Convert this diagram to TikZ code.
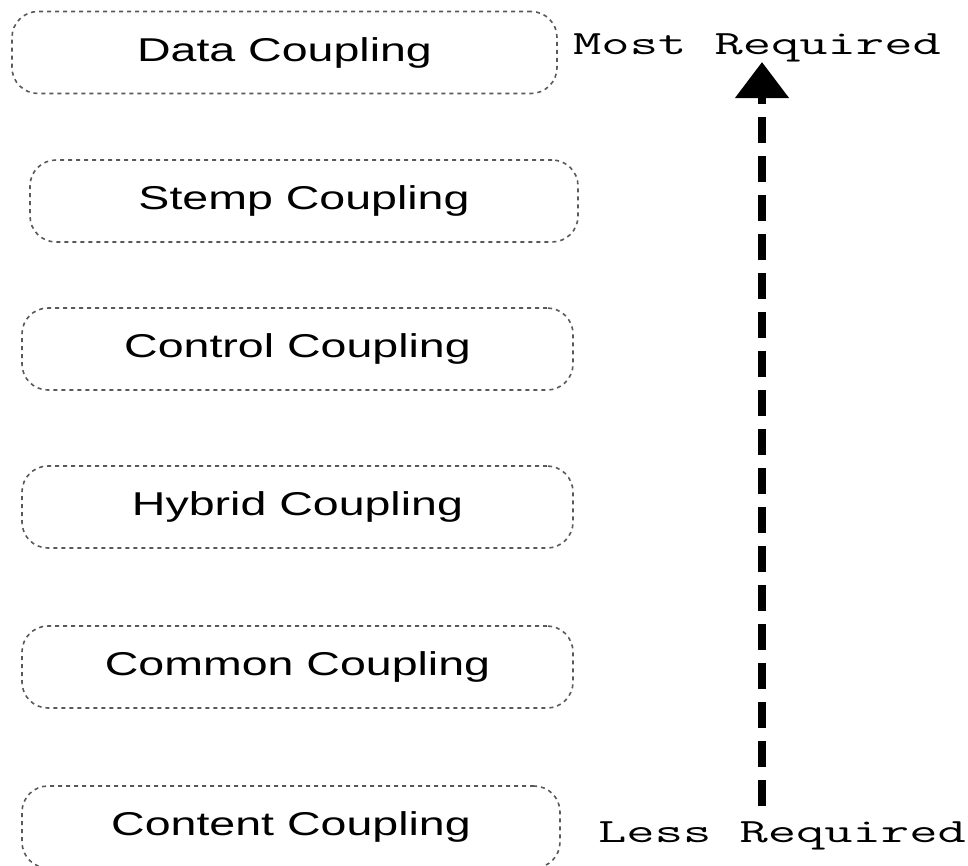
\documentclass[tikz,border=0pt]{standalone}
\usepackage{fontspec}
\usepackage{graphicx}
\setmainfont{Liberation Sans}
\usetikzlibrary{arrows.meta}
% wide-set label text
\newcommand{\widetext}[1]{\scalebox{1.41}[1]{#1}}
\newcommand{\widemono}[1]{\scalebox{1.615}[1]{\ttfamily #1}}
\begin{document}
\begin{tikzpicture}[x=1pt,y=-1pt,
  couplingbox/.style={draw=black!65, line width=1.6pt, dash pattern=on 4pt off 4pt,
    rounded corners=26pt, inner sep=0pt, minimum height=82pt,
    font=\fontsize{33}{38}\selectfont},
  levellabel/.style={anchor=base west, inner sep=0pt, font=\fontsize{34}{38}\selectfont},
  scalearrow/.style={line width=8pt, dash pattern=on 26pt off 13pt,
    -{Triangle[width=52pt,length=36pt]}}]
\useasboundingbox (0,0) rectangle (968,865);

% coupling kinds, from most to less required
\node[couplingbox, minimum width=545pt] (data)    at (284.5,52.5) {\widetext{Data Coupling}};
\node[couplingbox, minimum width=548pt] (stamp)   at (304,201)    {\widetext{Stemp Coupling}};
\node[couplingbox, minimum width=551pt] (control) at (297.5,349)  {\widetext{Control Coupling}};
\node[couplingbox, minimum width=551pt] (hybrid)  at (297.5,507)  {\widetext{Hybrid Coupling}};
\node[couplingbox, minimum width=551pt] (common)  at (297.5,667)  {\widetext{Common Coupling}};
\node[couplingbox, minimum width=538pt] (content) at (291,827)    {\widetext{Content Coupling}};

% scale labels
\node[levellabel] (most) at (573,54)  {\widemono{Most Required}};
\node[levellabel] (less) at (598,842) {\widemono{Less Required}};

% rising scale arrow
\coordinate (arrowfoot) at (762,806);
\coordinate (arrowtip)  at (762,62);
\draw[scalearrow] (arrowfoot) -- (arrowtip);
\end{tikzpicture}
\end{document}
